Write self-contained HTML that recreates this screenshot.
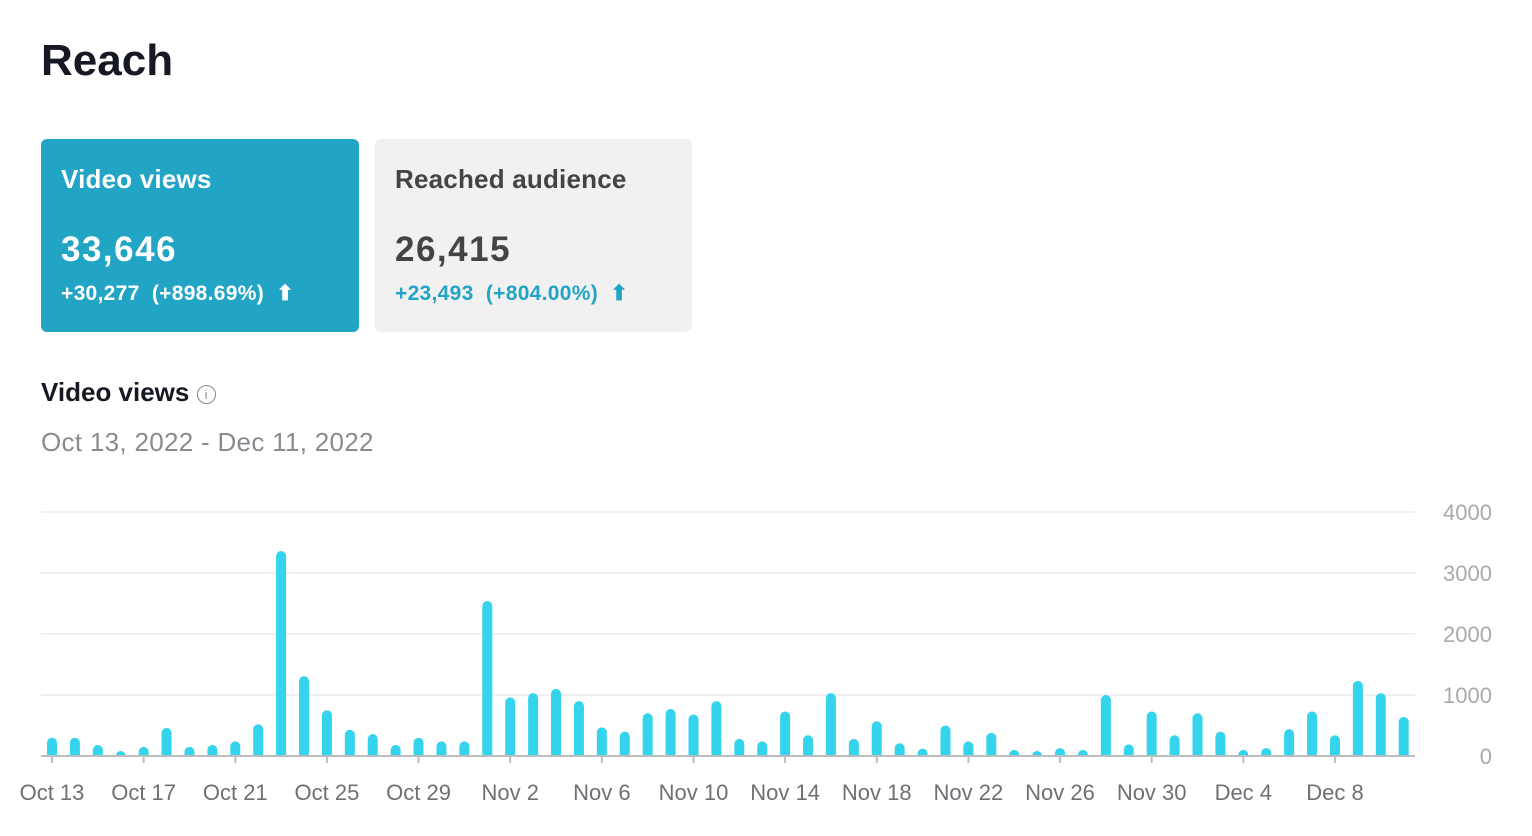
<!DOCTYPE html>
<html><head><meta charset="utf-8"><style>
body{margin:0;width:1532px;height:836px;background:#fff;font-family:"Liberation Sans",sans-serif;position:relative;overflow:hidden}
.abs{position:absolute}
.card{position:absolute;top:139px;width:318px;height:193px;border-radius:6px}
</style></head><body>
<div class="abs" style="left:41px;top:36px;font-size:44px;font-weight:bold;color:#161823">Reach</div>
<div class="card" style="left:41px;background:#22a4c5;color:#fff">
 <div class="abs" style="left:20px;top:25px;font-size:26px;font-weight:bold;letter-spacing:0.2px">Video views</div>
 <div class="abs" style="left:20px;top:91px;font-size:35px;font-weight:bold;letter-spacing:1.5px">33,646</div>
 <div class="abs" style="left:20px;top:142px;font-size:21px;font-weight:bold;letter-spacing:0.3px">+30,277 &nbsp;(+898.69%) &nbsp;⬆</div>
</div>
<div class="card" style="left:375px;width:317px;background:#f1f1f2;color:#444">
 <div class="abs" style="left:20px;top:25px;font-size:26px;font-weight:bold;letter-spacing:0.2px">Reached audience</div>
 <div class="abs" style="left:20px;top:91px;font-size:35px;font-weight:bold;letter-spacing:1.5px;color:#444">26,415</div>
 <div class="abs" style="left:20px;top:142px;font-size:21px;font-weight:bold;letter-spacing:0.3px;color:#22a4c5">+23,493 &nbsp;(+804.00%) &nbsp;⬆</div>
</div>
<div class="abs" style="left:41px;top:377px;font-size:26px;font-weight:bold;color:#161823">Video views <span style="display:inline-block;width:17px;height:17px;border:1.5px solid #888;border-radius:50%;font-size:13px;color:#888;text-align:center;line-height:17px;vertical-align:2px;font-weight:normal">i</span></div>
<div class="abs" style="left:41px;top:427px;font-size:26px;color:#8a8b91;letter-spacing:0.3px">Oct 13, 2022 - Dec 11, 2022</div>
<svg id="chart" class="abs" style="left:0;top:480px" width="1532" height="356"></svg>
<script>
const values=[300,300,180,60,150,460,150,180,240,520,3360,1310,750,430,360,180,300,240,240,2540,960,1030,1100,900,470,400,700,770,680,900,280,240,730,340,1030,280,570,210,120,500,240,380,100,60,130,100,1000,190,730,340,700,400,100,130,440,730,340,1230,1030,640];
const xLabels=["Oct 13","Oct 17","Oct 21","Oct 25","Oct 29","Nov 2","Nov 6","Nov 10","Nov 14","Nov 18","Nov 22","Nov 26","Nov 30","Dec 4","Dec 8"];
const yTicks=[0,1000,2000,3000,4000];
const svg=document.getElementById('chart');const NS='http://www.w3.org/2000/svg';
const base=276, yMax=4000, ph=244;
const y=v=>base-v/yMax*ph;
const x=i=>52+i*22.91;
function mk(t,a){const e=document.createElementNS(NS,t);for(const k in a)e.setAttribute(k,a[k]);svg.appendChild(e);return e;}
yTicks.forEach(t=>{
 if(t>0){const l=mk('line',{x1:41,x2:1415,y1:y(t),y2:y(t),stroke:'#eef0f4','stroke-width':2});
 
 }
 const tx=mk('text',{x:1492,y:y(t)+8,'text-anchor':'end','font-size':22,fill:'#a9aaae','font-family':'Liberation Sans,sans-serif'});tx.textContent=t;
 
 
});
values.forEach((v,i)=>{
 const h=v/yMax*ph, w=10, cx=x(i);
 const r=Math.min(5,h);
 const p=mk('path',{d:`M${cx-w/2},${base} V${y(v)+r} A${r},${r} 0 0 1 ${cx+w/2},${y(v)+r} V${base} Z`,fill:'#34d4ec'});
 
 
});
const ax=mk('line',{x1:41,x2:1415,y1:base,y2:base,stroke:'#bdbdbd','stroke-width':2});


xLabels.forEach((l,k)=>{
 const cx=x(k*4);
 const tk=mk('line',{x1:cx,x2:cx,y1:base,y2:base+7,stroke:'#bdbdbd','stroke-width':2});
 
 
 const t=mk('text',{x:cx,y:base+44,'text-anchor':'middle','font-size':22,fill:'#6f7075','font-family':'Liberation Sans,sans-serif'});t.textContent=l;
 
 
});
</script>
</body></html>
